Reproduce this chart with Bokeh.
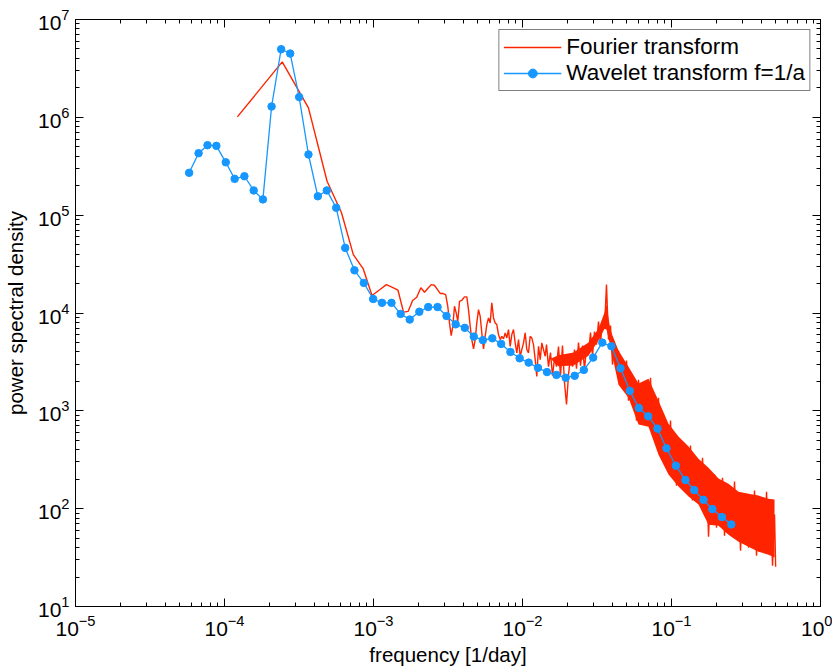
from bokeh.plotting import figure
from bokeh.models import (Range1d, LogAxis, LogTicker, Legend, LegendItem,
                          CustomJSTickFormatter)
from bokeh.embed import file_html
from bokeh.resources import INLINE

# ---------------- data ----------------
# Fourier transform: lowest harmonics (individually visible)
fourier_freq_low = [1.22e-4, 2.44e-4, 3.66e-4, 4.88e-4, 6.10e-4, 7.32e-4, 8.54e-4,
                    9.77e-4, 1.10e-3, 1.22e-3, 1.34e-3, 1.46e-3, 1.59e-3, 1.71e-3,
                    1.83e-3, 1.95e-3, 2.08e-3, 2.20e-3, 2.32e-3, 2.44e-3, 2.56e-3,
                    2.69e-3, 2.81e-3, 2.93e-3, 3.05e-3]
fourier_psd_low = [1.01e6, 3.69e6, 1.25e6, 2.22e5, 1.06e5, 3.95e4, 2.82e4,
                   1.51e4, 1.73e4, 1.95e4, 1.83e4, 1.71e4, 1.02e4, 1.04e4,
                   1.34e4, 1.45e4, 1.81e4, 1.63e4, 1.79e4, 1.95e4, 1.92e4,
                   1.73e4, 1.58e4, 1.58e4, 1.54e4]

# Fourier transform: middle part (jagged line)
fourier_freq_mid = [3.152e-3, 3.236e-3, 3.323e-3, 3.406e-3, 3.497e-3, 3.589e-3, 3.680e-3,
                    3.778e-3, 3.914e-3, 4.081e-3, 4.229e-3, 4.341e-3, 4.457e-3, 4.568e-3,
                    4.690e-3, 4.815e-3, 4.935e-3, 5.067e-3, 5.202e-3, 5.332e-3, 5.474e-3,
                    5.619e-3, 5.761e-3, 5.914e-3, 6.071e-3, 6.223e-3, 6.389e-3, 6.558e-3,
                    6.723e-3, 6.901e-3, 7.085e-3, 7.262e-3, 7.455e-3, 7.653e-3, 7.844e-3,
                    8.054e-3, 8.268e-3, 8.476e-3, 8.700e-3, 8.933e-3, 9.157e-3, 9.401e-3,
                    9.652e-3, 9.892e-3, 1.016e-2, 1.042e-2, 1.069e-2, 1.097e-2, 1.126e-2,
                    1.154e-2, 1.185e-2, 1.217e-2, 1.247e-2, 1.281e-2, 1.315e-2, 1.348e-2,
                    1.383e-2, 1.420e-2]
fourier_psd_mid = [1.171e4, 7.92e3, 5.87e3, 7.31e3, 1.171e4, 1.002e4, 8.23e3,
                   1.317e4, 1.349e4, 1.461e4, 1.461e4, 1.083e4, 7.31e3, 5.35e3,
                   4.30e3, 5.35e3, 7.92e3, 1.083e4, 9.25e3, 6.26e3, 4.30e3,
                   5.78e3, 7.61e3, 8.91e3, 7.92e3, 1.269e4, 8.91e3, 7.92e3,
                   7.61e3, 6.01e3, 5.35e3, 5.78e3, 5.44e3, 6.26e3, 5.56e3,
                   6.77e3, 4.56e3, 6.01e3, 6.77e3, 4.95e3, 3.91e3, 5.35e3,
                   3.61e3, 4.23e3, 4.95e3, 6.26e3, 4.23e3, 3.91e3, 5.78e3,
                   5.56e3, 4.75e3, 3.34e3, 2.25e3, 4.56e3, 3.34e3, 4.95e3,
                   4.23e3, 3.61e3]

# Fourier transform: dense high-frequency part (spikes)
fourier_freq_high = [0.01449, 0.01494, 0.01541, 0.01590, 0.01640, 0.01691, 0.01744, 0.01799,
                     0.01855, 0.01914, 0.01974, 0.02036, 0.02100, 0.02166, 0.02234, 0.02304,
                     0.02376, 0.02451, 0.02528, 0.02607, 0.02689, 0.02773, 0.02860, 0.02950,
                     0.03043, 0.03138, 0.03237, 0.03338, 0.03443, 0.03551, 0.03662, 0.03777,
                     0.03896, 0.04018, 0.04144, 0.04274, 0.04408, 0.04547, 0.04689, 0.04836,
                     0.04988, 0.05145, 0.05306, 0.05473, 0.05645, 0.05822, 0.06005, 0.06193,
                     0.06388, 0.06588, 0.06795, 0.07008, 0.07228, 0.07455, 0.07689, 0.07930,
                     0.08179, 0.08436, 0.08701, 0.08974, 0.09256, 0.09546, 0.09846, 0.1016,
                     0.1047, 0.1080, 0.1114, 0.1149, 0.1185, 0.1223, 0.1261, 0.1301,
                     0.1341, 0.1383, 0.1427, 0.1472, 0.1518, 0.1566, 0.1615, 0.1665,
                     0.1718, 0.1772, 0.1827, 0.1885, 0.1944, 0.2005, 0.2068, 0.2133,
                     0.2200, 0.2269, 0.2340, 0.2414, 0.2490, 0.2568, 0.2648, 0.2731,
                     0.2817, 0.2906, 0.2997, 0.3091, 0.3188, 0.3288, 0.3391, 0.3498,
                     0.3608, 0.3721, 0.3838, 0.3958, 0.4083, 0.4211, 0.4343, 0.4479,
                     0.4620, 0.4765, 0.4915, 0.5000]
fourier_psd_high = [4750, 2830, 3940, 2290, 3420, 2830, 4530, 2290,
                    4650, 1940, 1160, 2340, 3580, 2830, 4230, 2700,
                    4980, 2900, 4650, 2640, 4530, 3850, 6310, 3660,
                    6460, 4750, 8170, 4860, 8360, 6920, 19500, 5350,
                    7430, 2970, 4750, 3110, 4130, 1990, 3180, 1850,
                    3260, 1270, 1990, 1240, 1770, 794, 2080, 959,
                    1900, 813, 1690, 1100, 2180, 706, 1430, 628,
                    1360, 348, 689, 392, 706, 269, 794, 251,
                    571, 172, 421, 245, 484, 156, 356, 176,
                    441, 121, 262, 156, 288, 118, 332, 100,
                    251, 51.8, 176, 95.5, 223, 64.0, 164, 77.2,
                    207, 53.0, 126, 70.3, 149, 51.8, 189, 53.0,
                    139, 37.2, 107, 61.0, 142, 39.9, 110, 48.2,
                    153, 33.0, 88.9, 48.2, 110, 36.3, 149, 39.0,
                    112, 26.1, 86.9, 25.5]

# Fourier transform: solid core of the dense band (upper / lower edge)
fourier_band_freq = [0.01541, 0.01744, 0.0220, 0.02773,
                     0.03237, 0.03551, 0.03662, 0.03896, 0.04408, 0.05145, 0.06005, 0.07008,
                     0.08179, 0.09546, 0.1114, 0.1301, 0.1518, 0.1772, 0.2068, 0.2414,
                     0.2817, 0.3288, 0.3838, 0.4479, 0.4915]
fourier_band_high = [3400, 3700, 3940, 4980,
                     6920, 10100, 12200, 6610, 4130, 2830, 1900, 2130,
                     1270, 740, 545, 431, 324, 262, 203, 180,
                     149, 142, 136, 126, 124]
fourier_band_low = [3400, 2850, 2900, 3660,
                    5220, 6920, 6770, 4530, 1850, 1360, 723, 689,
                    356, 223, 168, 133, 110, 68.5, 67.0, 54.2,
                    46.0, 40.9, 36.3, 33.9, 31.6]

# Wavelet transform f = 1/a
wavelet_freq = [5.79e-5, 6.70e-5, 7.69e-5, 8.82e-5, 1.02e-4, 1.17e-4, 1.36e-4, 1.57e-4,
                1.81e-4, 2.07e-4, 2.40e-4, 2.76e-4, 3.17e-4, 3.66e-4, 4.23e-4, 4.86e-4,
                5.62e-4, 6.46e-4, 7.45e-4, 8.61e-4, 9.95e-4, 1.14e-3, 1.32e-3, 1.52e-3,
                1.75e-3, 2.03e-3, 2.33e-3, 2.69e-3, 3.09e-3, 3.56e-3, 4.10e-3, 4.71e-3,
                5.42e-3, 6.27e-3, 7.19e-3, 8.30e-3, 9.57e-3, 1.10e-2, 1.27e-2, 1.46e-2,
                1.69e-2, 1.95e-2, 2.24e-2, 2.58e-2, 2.98e-2, 3.43e-2, 3.95e-2, 4.55e-2,
                5.25e-2, 6.04e-2, 6.98e-2, 8.05e-2, 9.25e-2, 1.07e-1, 1.24e-1, 1.42e-1,
                1.64e-1, 1.88e-1, 2.18e-1, 2.52e-1]
wavelet_psd = [2.71e5, 4.30e5, 5.19e5, 5.11e5, 3.47e5, 2.35e5, 2.50e5, 1.79e5,
               1.45e5, 1.29e6, 4.97e6, 4.49e6, 1.61e6, 4.17e5, 1.56e5, 1.79e5,
               1.19e5, 4.63e4, 2.73e4, 2.03e4, 1.39e4, 1.27e4, 1.27e4, 9.79e3,
               8.57e3, 1.03e4, 1.15e4, 1.15e4, 9.33e3, 7.66e3, 7.05e3, 5.74e3,
               5.28e3, 5.51e3, 4.83e3, 4.00e3, 3.44e3, 3.11e3, 2.75e3, 2.49e3,
               2.33e3, 2.18e3, 2.28e3, 2.62e3, 3.50e3, 4.98e3, 4.57e3, 2.72e3,
               1.60e3, 1.07e3, 879, 658, 414, 275, 196, 155,
               123, 99, 82, 69]

x_limits = (1e-5, 1e0)
y_limits = (1e1, 1e7)

# ---------------- figure ----------------
FONT = "Liberation Sans"
RED = "#ff2400"
BLUE = "#1597ff"

p = figure(x_axis_type="log", y_axis_type="log",
           x_range=Range1d(*x_limits), y_range=Range1d(*y_limits),
           frame_width=745, frame_height=587,
           min_border_left=74, min_border_right=12,
           min_border_top=19, min_border_bottom=53,
           output_backend="svg", toolbar_location=None)
p.background_fill_color = "white"
p.border_fill_color = "white"
p.outline_line_color = "black"
p.outline_line_width = 1
p.xgrid.visible = False
p.ygrid.visible = False

fourier_freq = fourier_freq_low + fourier_freq_mid + fourier_freq_high
fourier_psd = fourier_psd_low + fourier_psd_mid + fourier_psd_high

p.varea(x=fourier_band_freq, y1=fourier_band_low, y2=fourier_band_high,
        fill_color=RED, fill_alpha=1.0)
r_red = p.line(fourier_freq, fourier_psd, line_color=RED, line_width=1.4)
r_bl = p.line(wavelet_freq, wavelet_psd, line_color=BLUE, line_width=1.3)
r_bp = p.scatter(wavelet_freq, wavelet_psd, marker="circle", size=7.5,
                 fill_color=BLUE, line_color=BLUE)


def style_axis(ax):
    ax.axis_line_color = "black"
    ax.axis_line_width = 1
    ax.major_tick_line_color = "black"
    ax.minor_tick_line_color = "black"
    ax.major_tick_in = 8
    ax.major_tick_out = 0
    ax.minor_tick_in = 4
    ax.minor_tick_out = 0
    ax.major_label_text_font = FONT
    ax.major_label_text_font_size = "21px"
    ax.major_label_text_color = "black"
    ax.axis_label_text_font = FONT
    ax.axis_label_text_font_size = "20.5px"
    ax.axis_label_text_font_style = "normal"
    ax.axis_label_text_color = "black"


xb = p.below[0]
yl = p.left[0]
xb.ticker = LogTicker(desired_num_ticks=5, num_minor_ticks=10)
yl.ticker = LogTicker(desired_num_ticks=6, num_minor_ticks=10)
style_axis(xb)
style_axis(yl)
xb.axis_label = "frequency [1/day]"
yl.axis_label = "power spectral density"
xb.major_label_standoff = 8
yl.major_label_standoff = 6
xb.axis_label_standoff = 4
yl.axis_label_standoff = 8

blank = CustomJSTickFormatter(code="return ''")
xt = LogAxis(ticker=LogTicker(desired_num_ticks=5, num_minor_ticks=10), formatter=blank)
yr = LogAxis(ticker=LogTicker(desired_num_ticks=6, num_minor_ticks=10), formatter=blank)
for ax in (xt, yr):
    style_axis(ax)
    ax.major_label_standoff = 0
p.add_layout(xt, "above")
p.add_layout(yr, "right")

legend = Legend(items=[LegendItem(label="Fourier transform", renderers=[r_red]),
                       LegendItem(label="Wavelet transform f=1/a", renderers=[r_bl, r_bp])],
                location="top_right")
legend.margin = 10
legend.padding = 4
legend.spacing = 0
legend.glyph_width = 58
legend.glyph_height = 22
legend.label_height = 22
legend.label_standoff = 5
legend.label_text_font = FONT
legend.label_text_font_size = "22.5px"
legend.label_text_color = "black"
legend.border_line_color = "black"
legend.border_line_width = 1.5
legend.background_fill_color = "white"
legend.background_fill_alpha = 1
p.add_layout(legend)

open("out.html", "w").write(file_html(p, INLINE))
